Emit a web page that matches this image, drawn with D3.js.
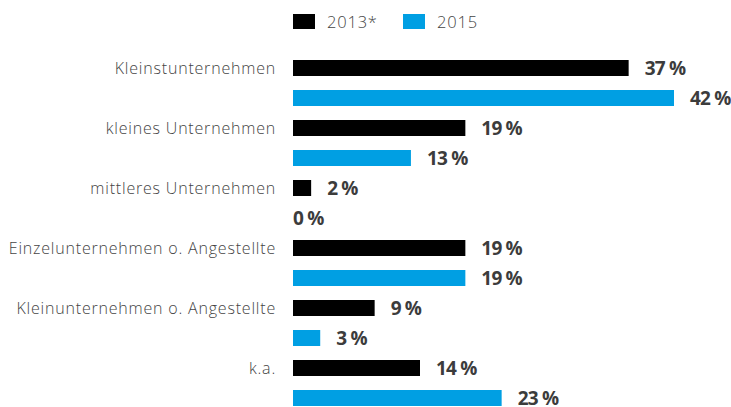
<!DOCTYPE html>
<html><head><meta charset="utf-8">
<script src="https://cdn.jsdelivr.net/npm/d3@7"></script>
<style>html,body{margin:0;padding:0;background:#fff;}svg{display:block;}</style>
</head><body>
<svg id="c" width="731" height="407"></svg>
<script>
const categories = ["Kleinstunternehmen","kleines Unternehmen","mittleres Unternehmen","Einzelunternehmen o. Angestellte","Kleinunternehmen o. Angestellte","k.a."];
const seriesNames = ["2013*","2015"];
const values2013 = [37,19,2,19,9,14];
const values2015 = [42,13,0,19,3,23];
const colors = ["#000000","#009fe3"];

const svg = d3.select("#c");
const x = d3.scaleLinear().domain([0,42]).range([293,674]);
const y = d3.scaleBand().domain(categories).range([53,413]).padding(0);
const ys = d3.scaleBand().domain(seriesNames).range([0,y.bandwidth()]).paddingInner(14/30).paddingOuter(7/30);
const seriesVals = [values2013, values2015];

const rows = [];
categories.forEach((c,i)=>seriesNames.forEach((s,j)=>rows.push({c,s,j,v:seriesVals[j][i]})));

svg.selectAll("rect.bar").data(rows).join("rect").attr("class","bar")
  .attr("x",x(0)).attr("y",d=>y(d.c)+ys(d.s))
  .attr("width",d=>x(d.v)-x(0)).attr("height",ys.bandwidth())
  .attr("fill",d=>colors[d.j]);

svg.selectAll("text.val").data(rows).join("text").attr("class","val")
  .attr("x",d=>d.v===0?x(0):x(d.v)+16)
  .attr("y",d=>y(d.c)+ys(d.s)+ys.bandwidth()/2+7)
  .attr("font-family","Open Sans").attr("font-weight",700).attr("font-size",19)
  .attr("fill","#3c3c3c").attr("letter-spacing",-0.8)
  .text(d=>d.v+" %");

svg.selectAll("text.cat").data(categories).join("text").attr("class","cat")
  .attr("x",276).attr("y",c=>y(c)+ys(seriesNames[0])+ys.bandwidth()/2+6)
  .attr("text-anchor","end")
  .attr("font-family","Open Sans").attr("font-weight",300).attr("font-size",16)
  .attr("letter-spacing",0.8)
  .attr("fill","#444").text(c=>c);

const lx = [293,403];
const leg = svg.selectAll("g.leg").data(seriesNames).join("g").attr("class","leg")
  .attr("transform",(d,i)=>`translate(${lx[i]},14)`);
leg.append("rect").attr("width",22).attr("height",15).attr("fill",(d,i)=>colors[i]);
leg.append("text").attr("x",34).attr("y",13.5)
  .attr("font-family","Open Sans").attr("font-weight",300).attr("font-size",16.5)
  .attr("letter-spacing",0.8)
  .attr("fill","#444").text(d=>d);
</script>
</body></html>
